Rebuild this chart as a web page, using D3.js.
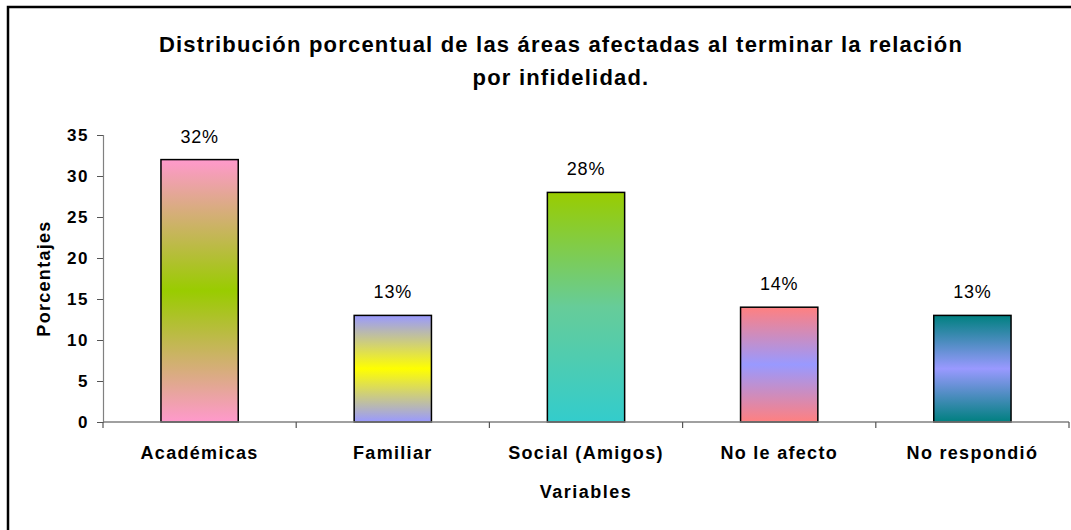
<!DOCTYPE html>
<html>
<head>
<meta charset="utf-8">
<script src="https://cdn.jsdelivr.net/npm/d3@7"></script>
<style>
  html, body { margin: 0; padding: 0; background: #fff; }
  svg { display: block; font-family: "Liberation Sans", Arial, sans-serif; }
</style>
</head>
<body>
<svg id="chart" width="1071" height="530"></svg>
<script>
const categories = ["Académicas", "Familiar", "Social (Amigos)", "No le afecto", "No respondió"];
const values = [32, 13, 28, 14, 13];
const valueLabels = ["32%", "13%", "28%", "14%", "13%"];
const yTicks = [0, 5, 10, 15, 20, 25, 30, 35];
const titleLines = ["Distribución porcentual de las áreas afectadas al terminar la relación", "por infidelidad."];
const yTitle = "Porcentajes";
const xTitle = "Variables";
const gradientStops = [
  ["#FF99CC", "#99CC00", "#FF99CC"],
  ["#9999FF", "#FFFF00", "#9999FF"],
  ["#99CC00", "#66CC99", "#33CCCC"],
  ["#FF8080", "#9999FF", "#FF8080"],
  ["#008080", "#9999FF", "#008080"]
];

const svg = d3.select("#chart");

// outer frame
svg.append("rect")
  .attr("x", 8).attr("y", 7).attr("width", 1200).attr("height", 700)
  .attr("fill", "#fff").attr("stroke", "#000").attr("stroke-width", 2.5);

const x = d3.scaleBand().domain(categories).range([103, 1069]).paddingInner(0.6).paddingOuter(0.3);
const y = d3.scaleLinear().domain([0, 35]).range([422, 135]);

// gradients
const defs = svg.append("defs");
gradientStops.forEach((cols, i) => {
  const g = defs.append("linearGradient").attr("id", "g" + i)
    .attr("x1", 0).attr("y1", 0).attr("x2", 0).attr("y2", 1);
  cols.forEach((c, j) => g.append("stop").attr("offset", j / (cols.length - 1)).attr("stop-color", c));
});

// title
const title = svg.append("text").attr("text-anchor", "middle")
  .attr("font-weight", "bold").attr("font-size", 22).attr("letter-spacing", 1.2).attr("fill", "#000");
title.append("tspan").attr("x", 561).attr("y", 52).text(titleLines[0]);
title.append("tspan").attr("x", 561).attr("y", 85).text(titleLines[1]);

// bars
svg.selectAll("rect.bar").data(values).enter().append("rect")
  .attr("class", "bar")
  .attr("x", (d, i) => x(categories[i]))
  .attr("y", d => y(d))
  .attr("width", x.bandwidth())
  .attr("height", d => y(0) - y(d))
  .attr("fill", (d, i) => `url(#g${i})`)
  .attr("stroke", "#000").attr("stroke-width", 1.5);

// value labels
svg.selectAll("text.val").data(values).enter().append("text")
  .attr("class", "val")
  .attr("x", (d, i) => x(categories[i]) + x.bandwidth() / 2)
  .attr("y", d => y(d) - 17)
  .attr("text-anchor", "middle").attr("font-size", 18).attr("letter-spacing", 0.8)
  .attr("fill", "#000")
  .text((d, i) => valueLabels[i]);

// y axis
const yAxis = svg.append("g").attr("transform", "translate(103,0)")
  .call(d3.axisLeft(y).tickValues(yTicks).tickSize(6).tickPadding(8));
yAxis.select(".domain").attr("stroke", "#808080").attr("stroke-width", 1.2);
yAxis.selectAll(".tick line").attr("stroke", "#555");
yAxis.selectAll(".tick text").attr("font-size", 17).attr("font-weight", "bold").attr("letter-spacing", 1.5)
  .attr("font-family", "Liberation Sans, Arial, sans-serif").attr("fill", "#000");

// x axis line and boundary ticks
const xLine = svg.append("g");
xLine.append("line").attr("x1", x.range()[0]).attr("x2", x.range()[1])
  .attr("y1", y(0)).attr("y2", y(0)).attr("stroke", "#808080").attr("stroke-width", 1.5);
const bounds = d3.range(categories.length + 1).map(i => x.range()[0] + i * (x.range()[1] - x.range()[0]) / categories.length);
xLine.selectAll("line.tk").data(bounds).enter().append("line").attr("class", "tk")
  .attr("x1", d => d).attr("x2", d => d).attr("y1", y(0)).attr("y2", y(0) + 6)
  .attr("stroke", "#555").attr("stroke-width", 1.2);

// category labels
svg.selectAll("text.cat").data(categories).enter().append("text")
  .attr("class", "cat")
  .attr("x", d => x(d) + x.bandwidth() / 2).attr("y", 459)
  .attr("text-anchor", "middle").attr("font-size", 18).attr("font-weight", "bold")
  .attr("letter-spacing", 1.3).attr("fill", "#000")
  .text(d => d);

// axis titles
svg.append("text").attr("x", (x.range()[0] + x.range()[1]) / 2).attr("y", 498)
  .attr("text-anchor", "middle").attr("font-size", 18).attr("font-weight", "bold")
  .attr("letter-spacing", 1.5).text(xTitle);
svg.append("text").attr("transform", `translate(50,${(y(0) + y(35)) / 2}) rotate(-90)`)
  .attr("text-anchor", "middle").attr("font-size", 18).attr("font-weight", "bold")
  .attr("letter-spacing", 1.3).text(yTitle);
</script>
</body>
</html>
